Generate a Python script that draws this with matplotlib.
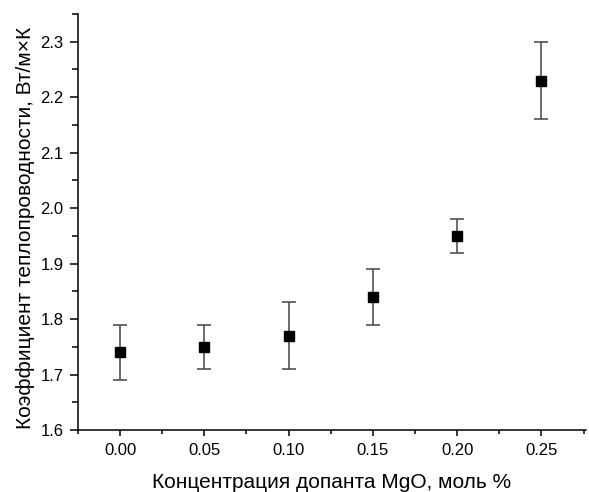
import matplotlib
matplotlib.use("Agg")
import matplotlib.pyplot as plt
from matplotlib.ticker import MultipleLocator

plt.rcParams['font.family'] = ['Liberation Sans', 'DejaVu Sans']

# data
conc = [0.00, 0.05, 0.10, 0.15, 0.20, 0.25]
k = [1.74, 1.75, 1.77, 1.84, 1.95, 2.23]
k_err = [0.05, 0.04, 0.06, 0.05, 0.03, 0.07]

fig = plt.figure(figsize=(5.89, 4.92), dpi=100)
ax = fig.add_axes([0.1324, 0.126, 0.8626, 0.8455])

ax.errorbar(conc, k, yerr=k_err, fmt='s', color='black', markersize=7.2,
            ecolor='#444444', elinewidth=1.1, capsize=5, capthick=1.1)

ax.set_xlim(-0.025, 0.2765)
ax.set_ylim(1.6, 2.35)
ax.xaxis.set_major_locator(MultipleLocator(0.05))
ax.xaxis.set_minor_locator(MultipleLocator(0.025))
ax.yaxis.set_major_locator(MultipleLocator(0.1))
ax.yaxis.set_minor_locator(MultipleLocator(0.05))
ax.xaxis.set_major_formatter(plt.FormatStrFormatter('%.2f'))
ax.yaxis.set_major_formatter(plt.FormatStrFormatter('%.1f'))

for s in ['top', 'right']:
    ax.spines[s].set_visible(False)
for s in ['left', 'bottom']:
    ax.spines[s].set_linewidth(1.1)
ax.tick_params(which='both', direction='out', width=1.1, labelsize=12)
ax.tick_params(axis='x', which='major', length=4.5, pad=5)
ax.tick_params(axis='x', which='minor', length=3)
ax.tick_params(axis='y', which='major', length=6, pad=4.5)
ax.tick_params(axis='y', which='minor', length=4)

ax.set_xlabel('Концентрация допанта MgO, моль %', fontsize=15)
ax.xaxis.set_label_coords(0.5, -0.1406)
ax.xaxis.label.set_va('baseline')
ax.set_ylabel('Коэффициент теплопроводности, Вт/м×К', fontsize=15, labelpad=6)
ax.yaxis.set_label_coords(-0.0846, 0.485)

fig.savefig('out.png', dpi=100)
